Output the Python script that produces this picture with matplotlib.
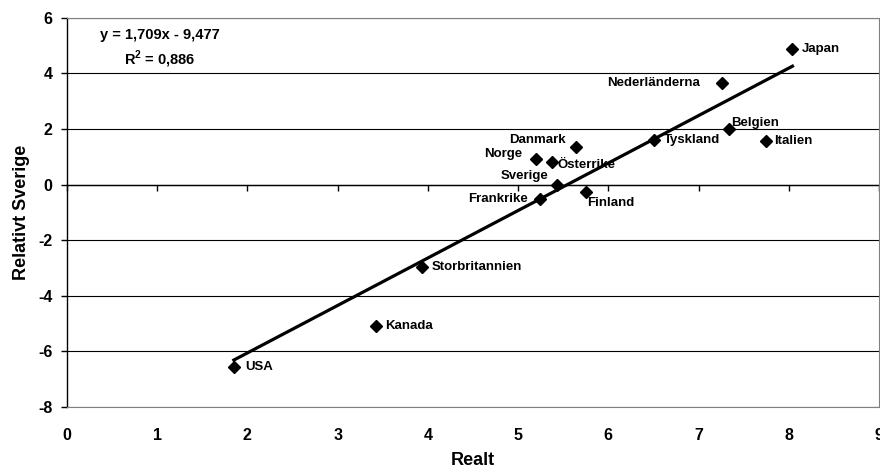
import numpy as np
import matplotlib
matplotlib.use('Agg')
import matplotlib.pyplot as plt

plt.rcParams['font.family'] = ['Liberation Sans', 'DejaVu Sans']
plt.rcParams['font.weight'] = 'bold'
plt.rcParams['axes.unicode_minus'] = False
plt.rcParams['mathtext.fontset'] = 'custom'
plt.rcParams['mathtext.bf'] = 'Liberation Sans:bold'
plt.rcParams['mathtext.rm'] = 'Liberation Sans:bold'

# Data
countries = ['USA', 'Kanada', 'Storbritannien', 'Frankrike', 'Sverige', 'Finland',
             'Norge', 'Österrike', 'Danmark', 'Tyskland', 'Belgien', 'Italien',
             'Nederländerna', 'Japan']
realt = [1.85, 3.43, 3.94, 5.24, 5.43, 5.75, 5.20, 5.38, 5.64, 6.51, 7.34, 7.75, 7.26, 8.04]
relativt = [-6.55, -5.10, -2.95, -0.50, -0.02, -0.25, 0.94, 0.83, 1.37, 1.62, 2.00, 1.58, 3.67, 4.89]

slope = 1.709
intercept = -9.477
r2 = 0.886

x_ticks = list(range(0, 10))
y_ticks = list(range(-8, 7, 2))

# label offsets in pixels (dx, dy, ha)
label_pos = {
    'USA': (11, 0, 'left'),
    'Kanada': (9, 0, 'left'),
    'Storbritannien': (9, 0, 'left'),
    'Frankrike': (-12, 0, 'right'),
    'Sverige': (-9, 9, 'right'),
    'Finland': (1, -11, 'left'),
    'Norge': (-14, 5, 'right'),
    'Österrike': (5, -3, 'left'),
    'Danmark': (-10, 7, 'right'),
    'Tyskland': (9, 0, 'left'),
    'Belgien': (2, 6, 'left'),
    'Italien': (8, 0, 'left'),
    'Nederländerna': (-22, 0, 'right'),
    'Japan': (9, 0, 'left'),
}

fig = plt.figure(figsize=(8.8, 4.72), dpi=100)
ax = fig.add_axes([0.076, 0.138, 0.923, 0.824])

ax.set_xlim(0, 9)
ax.set_ylim(-8, 6)
ax.set_xticks(x_ticks)
ax.set_yticks(y_ticks)

for y in y_ticks:
    ax.axhline(y, color='black', lw=0.8, zorder=1)

# trend line over the range of the data
xs = np.array([min(realt), max(realt)])
ax.plot(xs, slope * xs + intercept, color='black', lw=2.3, zorder=2)

ax.plot(realt, relativt, 'D', color='black', markersize=6.5, zorder=3, linestyle='none')

for name, x, y in zip(countries, realt, relativt):
    dx, dy, ha = label_pos[name]
    ax.annotate(name, (x, y), xytext=(dx, dy), textcoords='offset pixels',
                ha=ha, va='center', fontsize=9.5, fontweight='bold')

eq1 = 'y = ' + f'{slope:.3f}'.replace('.', ',') + 'x - ' + f'{-intercept:.3f}'.replace('.', ',')
eq2 = 'R$^{\\mathbf{2}}$ = ' + f'{r2:.3f}'.replace('.', ',')
ax.text(0.1145, 0.92, eq1 + '\n' + eq2,
        transform=ax.transAxes, ha='center', va='center', fontsize=10.5,
        fontweight='bold', linespacing=1.4)

for side in ['top', 'right', 'bottom']:
    ax.spines[side].set_color('#808080')
    ax.spines[side].set_linewidth(0.8)
ax.spines['left'].set_color('black')
ax.spines['left'].set_linewidth(1.0)

ax.tick_params(axis='y', direction='out', length=4.5, width=1, labelsize=11.5, pad=6)
ax.tick_params(axis='x', length=0, labelsize=11.5, pad=15)

# x axis crosses at y = 0
sec = ax.secondary_xaxis(0, transform=ax.transData)
sec.set_xticks(x_ticks)
sec.tick_params(axis='x', direction='out', length=4, width=1, labelbottom=False)
sec.spines['bottom'].set_color('black')
sec.spines['bottom'].set_linewidth(1.0)

for lbl in ax.get_xticklabels() + ax.get_yticklabels():
    lbl.set_fontweight('bold')

ax.set_xlabel('Realt', fontsize=13, fontweight='bold', labelpad=7)
ax.set_ylabel('Relativt Sverige', fontsize=13, fontweight='bold', labelpad=6)

fig.savefig('out.png', dpi=100)
